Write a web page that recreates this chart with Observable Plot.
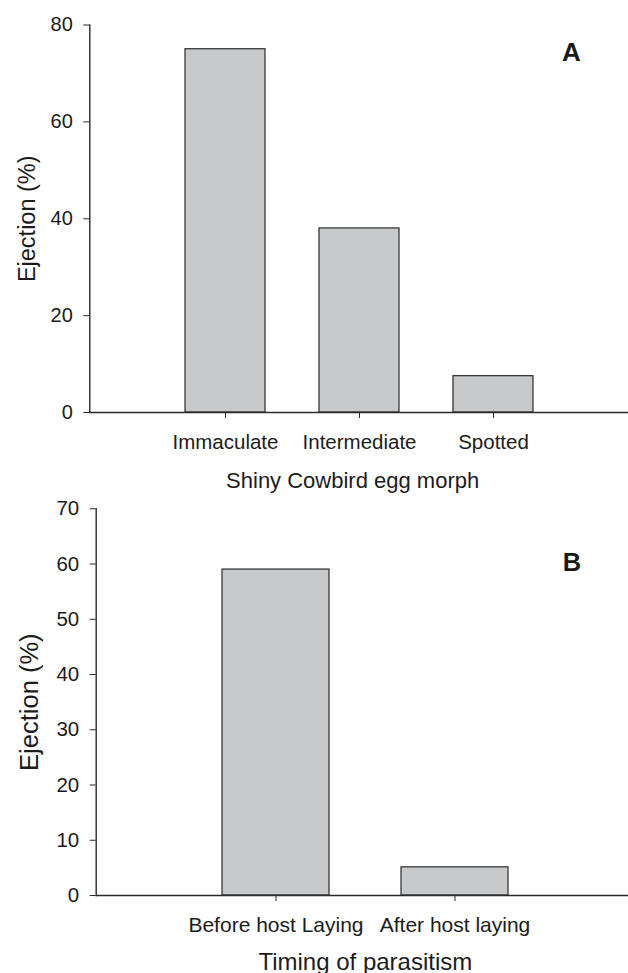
<!DOCTYPE html>
<html>
<head>
<meta charset="utf-8">
<script src="https://cdn.jsdelivr.net/npm/d3@7"></script>
<script src="https://cdn.jsdelivr.net/npm/@observablehq/plot@0.6"></script>
<style>
  html, body { margin: 0; padding: 0; background: #fff; }
  #chart svg { display: block; }
</style>
</head>
<body>
<div id="chart"></div>
<script>
// ---- Data ----
const morphCategories = ["Immaculate", "Intermediate", "Spotted"];
const morphEjection = [75, 38, 7.5];
const morphTicks = [0, 20, 40, 60, 80];

const timingCategories = ["Before host Laying", "After host laying"];
const timingEjection = [59, 5.1];
const timingTicks = [0, 10, 20, 30, 40, 50, 60, 70];

const panelLetters = ["A", "B"];
const xTitles = ["Shiny Cowbird egg morph", "Timing of parasitism"];
const yTitle = "Ejection (%)";

// ---- Tables ----
const dataA = morphCategories.map((c, i) => ({cat: c, value: morphEjection[i]}));
const dataB = timingCategories.map((c, i) => ({cat: c, value: timingEjection[i]}));

const FONT = "'Liberation Sans', Arial, Helvetica, sans-serif";
const INK = "#1c1c1c";
const AXIS = "#2a2a2a";
const BAR = "#c8c9cb";

function panel(opts) {
  return Plot.plot({
    width: 628,
    height: opts.height,
    marginTop: opts.marginTop,
    marginBottom: opts.marginBottom,
    marginLeft: opts.marginLeft,
    marginRight: opts.marginRight,
    style: {fontFamily: FONT, color: INK, background: "#fff", overflow: "visible"},
    x: {domain: opts.cats, paddingInner: 0.4, paddingOuter: 0.7, align: 0.5},
    y: {domain: [0, opts.ymax]},
    marks: [
      Plot.barY(opts.data, {x: "cat", y: "value", fill: BAR, stroke: AXIS, strokeWidth: 1.2}),
      Plot.axisY({ticks: opts.yticks, tickSize: 6, tickPadding: 11, fontSize: opts.tickFont, label: null, stroke: AXIS, fill: INK}),
      Plot.axisX({tickSize: 6, tickPadding: opts.xPad, fontSize: opts.catFont, label: null, stroke: AXIS, fill: INK}),
      Plot.frame({anchor: "left", stroke: AXIS, strokeWidth: 1.4}),
      Plot.ruleY([0], {stroke: AXIS, strokeWidth: 1.4}),
      Plot.text([opts.xTitle], {frameAnchor: "bottom", textAnchor: "middle", lineAnchor: "bottom", dy: opts.xTitleDy, dx: opts.xTitleDx, fontSize: opts.xTitleFont, fill: INK}),
      Plot.text([yTitle], {frameAnchor: "left", textAnchor: "middle", rotate: -90, lineAnchor: "bottom", dx: opts.yTitleDx, fontSize: opts.yTitleFont, fill: INK}),
      Plot.text([opts.letter], {frameAnchor: "top-right", textAnchor: "middle", lineAnchor: "bottom", dx: opts.letterDx, dy: opts.letterDy, fontSize: opts.letterFont, fontWeight: "bold", fill: "#1a1a1a"})
    ]
  });
}

const chartA = panel({
  height: 495, marginTop: 24.5, marginBottom: 83, marginLeft: 89.3, marginRight: -1,
  cats: morphCategories, data: dataA, ymax: 80, yticks: morphTicks,
  tickFont: 20, catFont: 20.5, xPad: 16,
  xTitle: xTitles[0], xTitleDy: 75, xTitleDx: -7, xTitleFont: 22,
  yTitleDx: -55.3, yTitleFont: 23.5,
  letter: panelLetters[0], letterDx: -58, letterDy: 35.5, letterFont: 26
});

const chartB = panel({
  height: 478, marginTop: 13.3, marginBottom: 78, marginLeft: 95.7, marginRight: -6,
  cats: timingCategories, data: dataB, ymax: 70, yticks: timingTicks,
  tickFont: 20.5, catFont: 21, xPad: 15.7,
  xTitle: xTitles[1], xTitleDy: 74, xTitleDx: 0, xTitleFont: 24,
  yTitleDx: -57.7, yTitleFont: 25.5,
  letter: panelLetters[1], letterDx: -62.5, letterDy: 61.7, letterFont: 25.5
});

const root = document.getElementById("chart");
root.appendChild(chartA);
root.appendChild(chartB);
</script>
</body>
</html>
